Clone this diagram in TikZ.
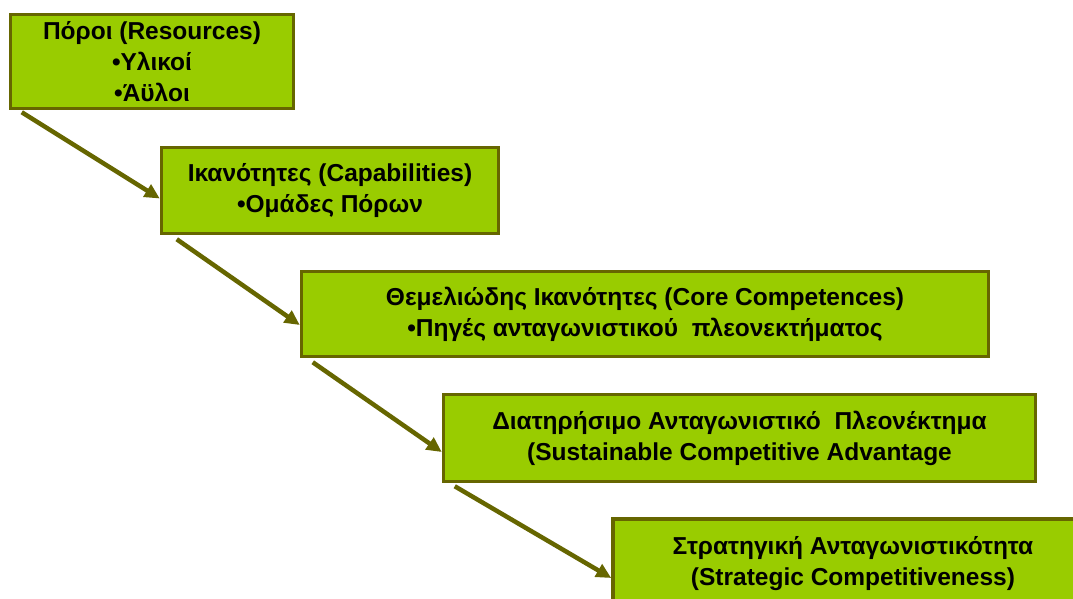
\documentclass[tikz,border=0pt]{standalone}
\usepackage{fontspec}
\setmainfont{Liberation Sans}
\definecolor{rbvgreen}{RGB}{153,204,0}
\definecolor{rbvolive}{RGB}{102,102,0}
\usetikzlibrary{arrows.meta}
\begin{document}
\begin{tikzpicture}[x=1pt,y=-1pt,
  stage/.style={draw=rbvolive,line width=3.5pt,fill=rbvgreen,align=center,inner sep=0pt,font=\fontsize{24.5}{31}\selectfont\bfseries},
  flow/.style={-{Triangle[length=15pt,width=14pt]},rbvolive,line width=4.5pt}]
  \clip (0,0) rectangle (1073,599);
  \fill[white] (0,0) rectangle (1073,599);
  % Resources
  \node[stage,minimum width=283pt,minimum height=94pt] (res) at (152,61.5) {Πόροι (Resources)\\•Υλικοί\\•Άϋλοι};
  % Capabilities
  \node[stage,minimum width=337pt,minimum height=86pt] (cap) at (330,190.5) {Ικανότητες (Capabilities)\\•Ομάδες Πόρων};
  % Core competences
  \node[stage,minimum width=687pt,minimum height=85pt] (core) at (645,314) {Θεμελιώδης Ικανότητες (Core Competences)\\•Πηγές ανταγωνιστικού \ πλεονεκτήματος};
  % Sustainable competitive advantage
  \node[stage,minimum width=592pt,minimum height=87pt] (sca) at (739.5,438) {Διατηρήσιμο Ανταγωνιστικό \ Πλεονέκτημα\\(Sustainable Competitive Advantage};
  % Strategic competitiveness
  \node[stage,minimum width=480pt,minimum height=90pt] (strat) at (853,564) {Στρατηγική Ανταγωνιστικότητα\\(Strategic Competitiveness)};
  \draw[flow] ([xshift=13pt,yshift=-2pt]res.south west)--([yshift=-8pt]cap.west);
  \draw[flow] ([xshift=17pt,yshift=-4pt]cap.south west)--([yshift=-11pt]core.west);
  \draw[flow] ([xshift=13pt,yshift=-4pt]core.south west)--([yshift=-14pt]sca.west);
  \draw[flow] ([xshift=13pt,yshift=-3pt]sca.south west)--([yshift=-14pt]strat.west);
\end{tikzpicture}
\end{document}
